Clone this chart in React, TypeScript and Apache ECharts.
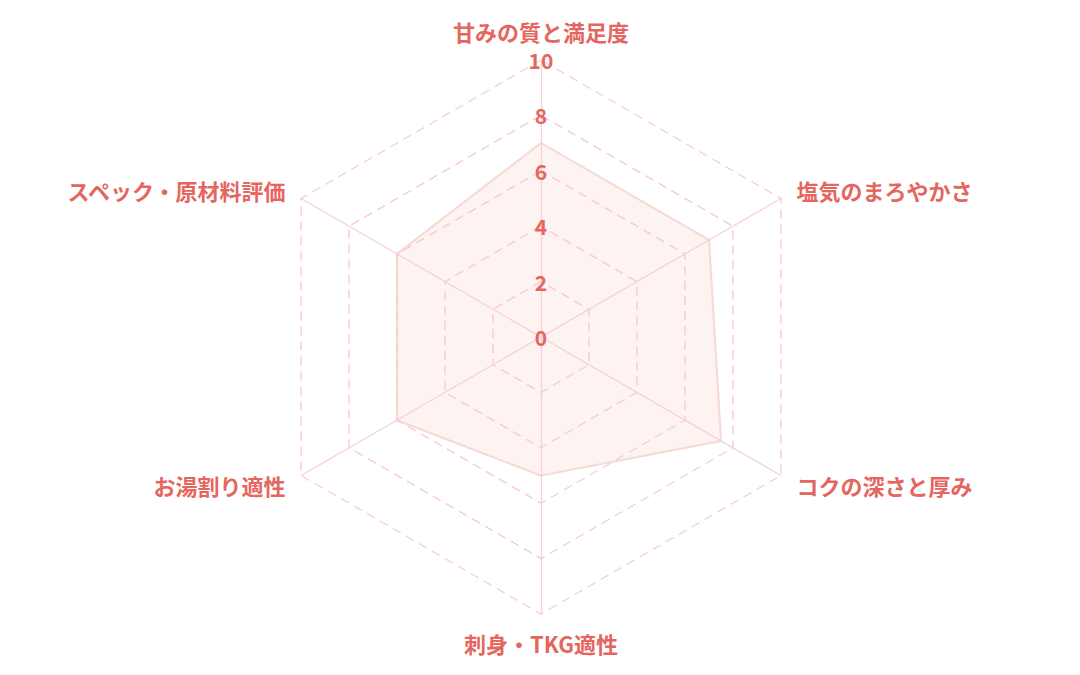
import React, { useEffect, useRef } from "react";
import * as echarts from "echarts";

const indicatorNames = [
  "甘みの質と満足度",
  "スペック・原材料評価",
  "お湯割り適性",
  "刺身・TKG適性",
  "コクの深さと厚み",
  "塩気のまろやかさ",
];
const maxValue = 10;
const scores = [7, 6, 6, 5, 7.5, 7];

const TEXT = "#e5665f";

export default function App() {
  const ref = useRef<HTMLDivElement>(null);
  useEffect(() => {
    if (!ref.current) return;
    const chart = echarts.init(ref.current, undefined, { renderer: "svg" });
    chart.setOption({
      animation: false,
      backgroundColor: "#ffffff",
      radar: {
        z: 3,
        center: [541, 337],
        radius: 277,
        startAngle: 90,
        splitNumber: 5,
        shape: "polygon",
        nameGap: 18,
        axisName: {
          color: TEXT,
          fontSize: 22,
          fontWeight: "bold",
          fontFamily: "Noto Sans CJK JP",
        },
        axisLine: { lineStyle: { color: "#f5cfd3", width: 1.2 } },
        splitLine: { lineStyle: { color: "#f6cbd2", type: [9, 6], width: 1.4 } },
        splitArea: { show: false },
        axisTick: { show: false },
        axisLabel: {
          show: false,
          color: TEXT,
          fontSize: 21,
          fontWeight: "bold",
          fontFamily: "Noto Sans CJK JP",
          margin: 0,
          align: "center",
          verticalAlign: "middle",
        },
        indicator: indicatorNames.map((name, i) => ({
          name,
          min: 0,
          max: maxValue,
          axisLabel: { show: i === 0 },
        })),
      },
      series: [
        {
          type: "radar",
          z: 1,
          symbol: "none",
          lineStyle: { color: "#f4d8d0", width: 2.2 },
          areaStyle: { color: "#fbe7e2", opacity: 0.5 },
          data: [{ value: scores, name: "評価" }],
        },
      ],
    });
    return () => chart.dispose();
  }, []);
  return (
    <div
      ref={ref}
      style={{ position: "absolute", left: 0, top: 0, width: 1080, height: 675 }}
    />
  );
}
